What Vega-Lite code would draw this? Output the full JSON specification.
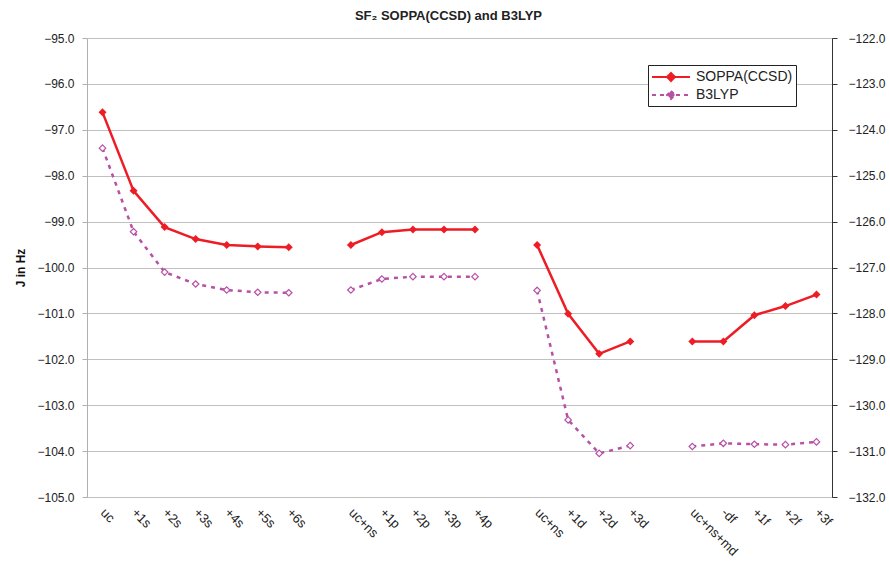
{
  "$schema": "https://vega.github.io/schema/vega-lite/v6.json",
  "autosize": "none",
  "width": 745,
  "height": 459,
  "padding": {"left": 87, "top": 38, "right": 58, "bottom": 68},
  "background": "white",
  "config": {
    "font": "Liberation Sans",
    "view": {"stroke": null},
    "axis": {"labelFont": "Liberation Sans", "titleFont": "Liberation Sans", "labelColor": "#222", "titleColor": "#111"}
  },
  "title": {"text": "SF₂ SOPPA(CCSD) and B3LYP", "fontSize": 13, "fontWeight": "bold", "font": "Liberation Sans", "color": "#222", "anchor": "middle", "dx": -11, "offset": 9},
  "data": {"values": [
    {"series": "SOPPA(CCSD)", "key": "uc_s", "seg": "s", "value": -96.62},
    {"series": "SOPPA(CCSD)", "key": "1s", "seg": "s", "value": -98.33},
    {"series": "SOPPA(CCSD)", "key": "2s", "seg": "s", "value": -99.12},
    {"series": "SOPPA(CCSD)", "key": "3s", "seg": "s", "value": -99.38},
    {"series": "SOPPA(CCSD)", "key": "4s", "seg": "s", "value": -99.51},
    {"series": "SOPPA(CCSD)", "key": "5s", "seg": "s", "value": -99.54},
    {"series": "SOPPA(CCSD)", "key": "6s", "seg": "s", "value": -99.56},
    {"series": "SOPPA(CCSD)", "key": "uc_p", "seg": "p", "value": -99.51},
    {"series": "SOPPA(CCSD)", "key": "1p", "seg": "p", "value": -99.23},
    {"series": "SOPPA(CCSD)", "key": "2p", "seg": "p", "value": -99.17},
    {"series": "SOPPA(CCSD)", "key": "3p", "seg": "p", "value": -99.17},
    {"series": "SOPPA(CCSD)", "key": "4p", "seg": "p", "value": -99.17},
    {"series": "SOPPA(CCSD)", "key": "uc_d", "seg": "d", "value": -99.51},
    {"series": "SOPPA(CCSD)", "key": "1d", "seg": "d", "value": -101.01},
    {"series": "SOPPA(CCSD)", "key": "2d", "seg": "d", "value": -101.88},
    {"series": "SOPPA(CCSD)", "key": "3d", "seg": "d", "value": -101.61},
    {"series": "SOPPA(CCSD)", "key": "uc_f", "seg": "f", "value": -101.61},
    {"series": "SOPPA(CCSD)", "key": "df", "seg": "f", "value": -101.61},
    {"series": "SOPPA(CCSD)", "key": "1f", "seg": "f", "value": -101.04},
    {"series": "SOPPA(CCSD)", "key": "2f", "seg": "f", "value": -100.84},
    {"series": "SOPPA(CCSD)", "key": "3f", "seg": "f", "value": -100.59},
    {"series": "B3LYP", "key": "uc_s", "seg": "s", "value": -124.40},
    {"series": "B3LYP", "key": "1s", "seg": "s", "value": -126.22},
    {"series": "B3LYP", "key": "2s", "seg": "s", "value": -127.10},
    {"series": "B3LYP", "key": "3s", "seg": "s", "value": -127.36},
    {"series": "B3LYP", "key": "4s", "seg": "s", "value": -127.49},
    {"series": "B3LYP", "key": "5s", "seg": "s", "value": -127.54},
    {"series": "B3LYP", "key": "6s", "seg": "s", "value": -127.55},
    {"series": "B3LYP", "key": "uc_p", "seg": "p", "value": -127.49},
    {"series": "B3LYP", "key": "1p", "seg": "p", "value": -127.25},
    {"series": "B3LYP", "key": "2p", "seg": "p", "value": -127.20},
    {"series": "B3LYP", "key": "3p", "seg": "p", "value": -127.20},
    {"series": "B3LYP", "key": "4p", "seg": "p", "value": -127.20},
    {"series": "B3LYP", "key": "uc_d", "seg": "d", "value": -127.50},
    {"series": "B3LYP", "key": "1d", "seg": "d", "value": -130.32},
    {"series": "B3LYP", "key": "2d", "seg": "d", "value": -131.05},
    {"series": "B3LYP", "key": "3d", "seg": "d", "value": -130.88},
    {"series": "B3LYP", "key": "uc_f", "seg": "f", "value": -130.90},
    {"series": "B3LYP", "key": "df", "seg": "f", "value": -130.83},
    {"series": "B3LYP", "key": "1f", "seg": "f", "value": -130.85},
    {"series": "B3LYP", "key": "2f", "seg": "f", "value": -130.86},
    {"series": "B3LYP", "key": "3f", "seg": "f", "value": -130.80}
  ]},
  "encoding": {
    "x": {
      "field": "key", "type": "ordinal", "sort": null,
      "scale": {"type": "point", "padding": 0.5, "domain": ["uc_s","1s","2s","3s","4s","5s","6s","g1","uc_p","1p","2p","3p","4p","g2","uc_d","1d","2d","3d","g3","uc_f","df","1f","2f","3f"]},
      "axis": {
        "title": null, "ticks": false, "grid": false, "domainColor": "#c0c0c0",
        "labelAngle": 45, "labelAlign": "left", "labelBaseline": "top", "labelPadding": 9, "labelOffset": 4, "labelFontSize": 13,
        "labelExpr": "indexof(['uc_p','uc_d'], datum.value) >= 0 ? 'uc+ns' : datum.value == 'uc_s' ? 'uc' : datum.value == 'uc_f' ? 'uc+ns+md' : datum.value == 'df' ? '-df' : indexof(['g1','g2','g3'], datum.value) >= 0 ? '' : '+' + datum.value"
      }
    },
    "color": {
      "field": "series", "type": "nominal",
      "scale": {"domain": ["SOPPA(CCSD)", "B3LYP"], "range": ["#ee1c25", "#b751a6"]},
      "legend": {
        "title": null, "orient": "none", "legendX": 561, "legendY": 27,
        "strokeColor": "#222", "fillColor": "white", "padding": 3,
        "symbolType": "M-1,0L3.75,0M1.375,-0.5L1.875,0L1.375,0.5L0.875,0Z",
        "symbolSize": 256, "symbolStrokeWidth": 2, "labelFontSize": 14, "labelColor": "#222", "labelOffset": 27,
        "rowPadding": 1,
        "encode": {"symbols": {"update": {
          "fill": {"signal": "datum.value === 'SOPPA(CCSD)' ? '#ee1c25' : 'white'"},
          "fillOpacity": {"value": 1},
          "strokeDash": {"signal": "datum.value === 'B3LYP' ? [4,4] : [1,0]"}
        }}}
      }
    },
    "detail": {"field": "seg"}
  },
  "layer": [
    {
      "transform": [{"filter": "datum.series === 'SOPPA(CCSD)'"}],
      "mark": {"type": "line", "strokeWidth": 2.5, "point": {"shape": "diamond", "filled": true, "size": 64}},
      "encoding": {
        "y": {
          "field": "value", "type": "quantitative",
          "scale": {"domain": [-105, -95], "zero": false, "nice": false},
          "axis": {
            "title": "J in Hz", "titleFontSize": 12, "titleFontWeight": "bold", "titlePadding": 9,
            "values": [-105,-104,-103,-102,-101,-100,-99,-98,-97,-96,-95], "format": ".1f",
            "labelFontSize": 12, "labelPadding": 8, "tickSize": 5,
            "domainColor": "#b0b0b0", "tickColor": "#b0b0b0", "grid": true, "gridColor": "#c0c0c0"
          }
        }
      }
    },
    {
      "transform": [{"filter": "datum.series === 'B3LYP'"}],
      "mark": {"type": "line", "strokeWidth": 2.5, "strokeDash": [4, 5], "point": {"shape": "diamond", "filled": false, "fill": "white", "size": 42, "strokeWidth": 1.2}},
      "encoding": {
        "y": {
          "field": "value", "type": "quantitative",
          "scale": {"domain": [-132, -122], "zero": false, "nice": false},
          "axis": {
            "orient": "right", "title": null,
            "values": [-132,-131,-130,-129,-128,-127,-126,-125,-124,-123,-122], "format": ".1f",
            "labelFontSize": 12, "labelPadding": 11, "tickSize": 5,
            "domainColor": "#333", "tickColor": "#333", "grid": false
          }
        }
      }
    }
  ],
  "resolve": {"scale": {"y": "independent"}}
}
